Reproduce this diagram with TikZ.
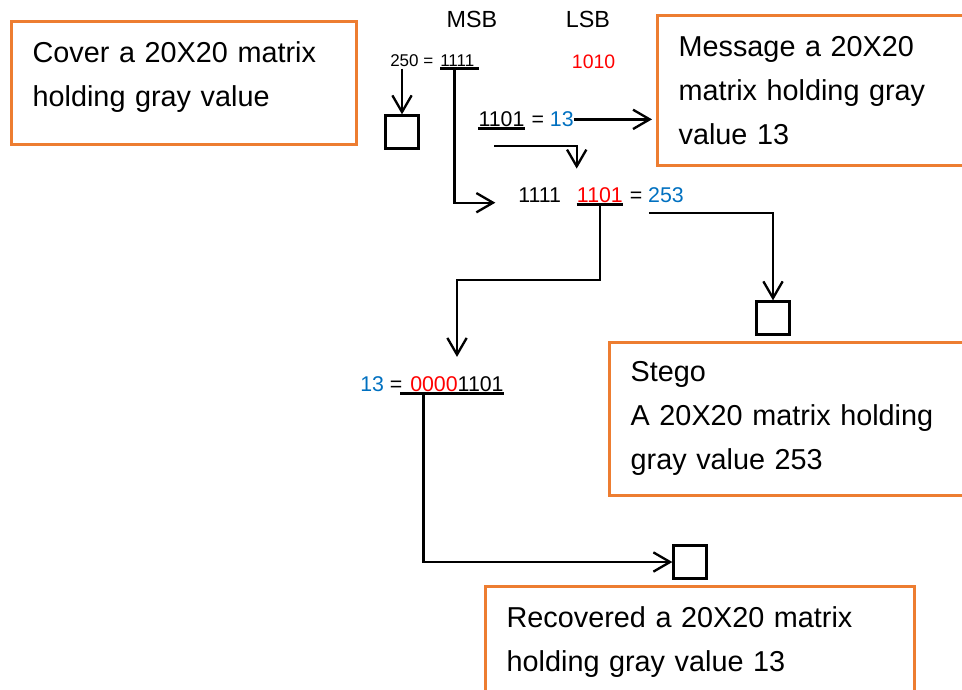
\documentclass[tikz,border=0pt]{standalone}
\usepackage{fontspec}
\setmainfont{Liberation Sans}
\usetikzlibrary{arrows.meta}
\definecolor{boxorange}{RGB}{237,125,49}
\definecolor{bitred}{RGB}{255,0,0}
\definecolor{valblue}{RGB}{0,112,192}

\begin{document}
\begin{tikzpicture}[
  x=0.75pt, y=-0.75pt,
  infobox/.style={draw=boxorange, line width=2pt, anchor=north west,
    align=left, inner xsep=16pt, inner ysep=0pt,
    font=\fontsize{21.6}{33}\selectfont},
  bits/.style={anchor=base west, inner xsep=0pt, inner ysep=1.2pt,
    font=\fontsize{16}{19}\selectfont},
  pixel/.style={draw, line width=1.75pt, minimum size=24.75pt, inner sep=0pt},
  wire/.style={line width=1.75pt},
  arr/.style={wire, -{Straight Barb[length=12.5pt,width=14.5pt]}},
  uline/.style={line width=2.3pt},
]
\useasboundingbox (0,0) rectangle (962,689);

% the four matrices
\node[infobox, text width=227pt, minimum height=92.25pt]  (cover)     at (10,20)   {Cover a 20X20 matrix\\holding gray value\rule[-13.5pt]{0pt}{0pt}};
\node[infobox, text width=280pt, minimum height=112.5pt]  (message)   at (656,14)  {Message a 20X20\\matrix holding gray\\value 13};
\node[infobox, text width=280pt, minimum height=114.75pt] (stego)     at (608,341) {Stego\\A 20X20 matrix holding\\gray value 253};
\node[infobox, text width=290pt, minimum height=83.25pt]  (recovered) at (484,585) {Recovered a 20X20 matrix\\holding gray value 13};

% bit strings
\node[font=\fontsize{17.5}{20}\selectfont] (msb) at (472,19.7) {MSB};
\node[font=\fontsize{17.5}{20}\selectfont] (lsb) at (588,19.7) {LSB};
\node[bits, font=\fontsize{12.75}{15}\selectfont] (cov250) at (390,66.7) {250 =};
\node[bits, font=\fontsize{12.75}{15}\selectfont] (covmsb) at (440,66.7) {1111};
\node[bits, font=\fontsize{14.6}{17}\selectfont, text=bitred] (covlsb) at (571.7,68.3) {1010};
\node[bits] (msgbits)  at (478.3,126.7) {1101};
\node[bits] (msgval)   at (531.3,126.7) {= \textcolor{valblue}{13}};
\node[bits] (stegomsb) at (518,202.7)   {1111};
\node[bits, text=bitred] (stegolsb) at (576.7,202.7) {1101};
\node[bits] (stegoval) at (629.5,202.7) {= \textcolor{valblue}{253}};
\node[bits] (recval)   at (360,391)     {\textcolor{valblue}{13} =};
\node[bits] (recbits)  at (410,391)     {\textcolor{bitred}{0000}1101};

% pixels
\node[pixel] (sqcover) at (402,132) {};
\node[pixel] (sqstego) at (773,318) {};
\node[pixel] (sqrec)   at (690,562) {};

% underlines
\draw[wire]  (covmsb.south west) -- ([xshift=3pt]covmsb.south east);
\draw[uline] (msgbits.south west) -- (msgbits.south east);
\draw[uline] (stegolsb.south west) -- (stegolsb.south east);
\draw[uline] ([xshift=-7.5pt]recbits.south west) -- (recbits.south east);

% connectors
\coordinate (carry) at (494,145.7);
\coordinate (drop)  at (457,280);
\draw[arr] (sqcover.north |- cov250.south) -- (sqcover.north);
\draw[arr] ([xshift=-2pt]covmsb.south) |- ([xshift=-17pt]stegomsb.base west);
\draw[arr, shorten >=3pt] (msgval.east) -- (message.west |- msgval.east);
\draw[arr, shorten >=13pt] (carry) -| (stegolsb.north west);
\draw[arr, shorten >=13pt] (stegolsb.south) |- (drop) -- (drop |- recbits.north);
\draw[arr] ([xshift=-6pt,yshift=-6pt]stegoval.south) -| (sqstego.north);
\draw[arr] ([xshift=10pt]recbits.south west) |- (sqrec.west);
\end{tikzpicture}
\end{document}
